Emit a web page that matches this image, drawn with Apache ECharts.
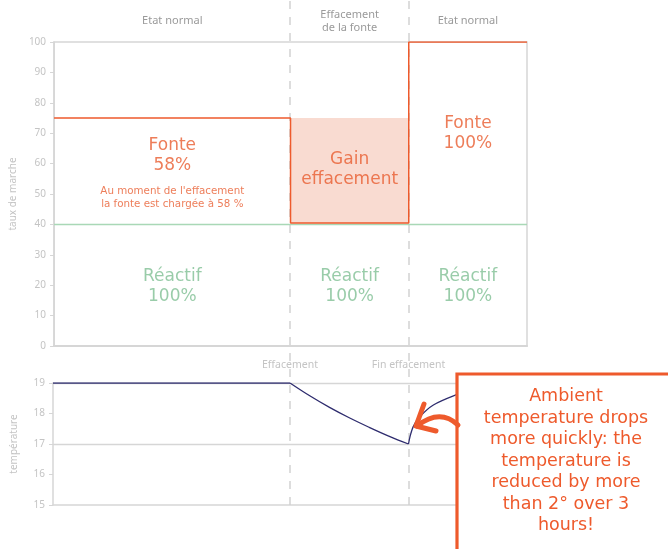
<!DOCTYPE html>
<html><head><meta charset="utf-8">
<script src="https://cdn.jsdelivr.net/npm/echarts@6/dist/echarts.min.js"></script>
<style>html,body{margin:0;padding:0;background:#fff}#c{width:668px;height:549px}</style>
</head><body><div id="c"></div>
<script>
// ---- data ----
const hourMin = 0, hourMax = 12;
const phaseNames = ['Etat normal', 'Effacement\nde la fonte', 'Etat normal'];
const phaseBounds = [0, 6, 9, 12];
const eventNames = ['Effacement', 'Fin effacement'];
const eventHours = [6, 9];

const fonteHours = [0, 6, 6, 9, 9, 12];
const fonteRates = [75, 75, 40.5, 40.5, 100, 100];
const reactifHours = [0, 12];
const reactifRates = [40, 40];
const gainHours = [6, 9];
const gainRates = [40.5, 75];

const rateLabels = ['Fonte\n58%', "Au moment de l'effacement\nla fonte est chargée à 58 %", 'Gain\neffacement', 'Fonte\n100%', 'Réactif\n100%', 'Réactif\n100%', 'Réactif\n100%'];
const rateLabelHours = [3, 3, 7.5, 10.5, 3, 7.5, 10.5];
const rateLabelValues = [62.5, 48.8, 57.9, 70, 19.7, 19.7, 19.7];
const rateLabelKinds = ['red', 'small', 'red', 'red', 'green', 'green', 'green'];

const tempNormalHours = [0, 6];
const tempNormalValues = [19, 19];
const tempDropHours = [6, 6.5, 7, 7.5, 8, 8.5, 9];
const tempDropValues = [19, 18.58, 18.2, 17.86, 17.55, 17.26, 17];
const tempRiseHours = [9, 9.04, 9.12, 9.29, 9.63, 10.18, 10.6, 11.2, 12];
const tempRiseValues = [17, 17.25, 17.57, 17.9, 18.28, 18.6, 18.77, 18.9, 18.97];
const tempRefLines = [19, 17];

const noteText = 'Ambient\ntemperature drops\nmore quickly: the\ntemperature is\nreduced by more\nthan 2° over 3\nhours!';

// ---- style ----
const FONT = 'Noto Sans';
const WIDE = 'DejaVu Sans';
const RED = '#ee5a2c', RED_TXT = '#e95d30', PINK = '#f9dbd1';
const GREEN = '#a9d8b6', GREEN_TXT = '#7fbf93';
const NAVY = '#2e2c6e', AXIS = '#d6d6d6', TICK_TXT = '#c4c4c4';

const zip = (a, b) => a.map((v, i) => [v, b[i]]);

const labelStyles = {
  red: { color: RED_TXT, fontSize: 17, lineHeight: 20 },
  small: { color: RED_TXT, fontSize: 10.3, lineHeight: 13 },
  green: { color: GREEN_TXT, fontSize: 17, lineHeight: 20 }
};

const chart = echarts.init(document.getElementById('c'), null, { renderer: 'canvas' });
chart.setOption({
  animation: false,
  textStyle: { fontFamily: FONT },
  grid: [
    { left: 53, right: 141, top: 42, height: 304, show: true, borderColor: AXIS, borderWidth: 1.5, backgroundColor: 'transparent' },
    { left: 53, right: 141, top: 383, height: 122 },
    { left: 53, right: 141, top: 0, height: 505 }
  ],
  xAxis: [
    { gridIndex: 0, type: 'value', min: hourMin, max: hourMax, axisLine: { show: true, lineStyle: { color: AXIS, width: 2 } }, axisTick: { show: false }, axisLabel: { show: false }, splitLine: { show: false } },
    { gridIndex: 1, type: 'value', min: hourMin, max: hourMax, axisLine: { show: true, lineStyle: { color: AXIS, width: 1.5 } }, axisTick: { show: false }, axisLabel: { show: false }, splitLine: { show: false } },
    { gridIndex: 2, type: 'value', min: hourMin, max: hourMax, show: false }
  ],
  yAxis: [
    { gridIndex: 0, type: 'value', min: 0, max: 100, interval: 10, name: 'taux de marche', nameLocation: 'middle', nameGap: 34,
      nameTextStyle: { color: TICK_TXT, fontSize: 10 },
      axisLine: { show: true, lineStyle: { color: AXIS, width: 1.5 } }, axisTick: { show: true, length: 4, lineStyle: { color: AXIS } },
      axisLabel: { color: TICK_TXT, fontSize: 10, margin: 8 }, splitLine: { show: false } },
    { gridIndex: 1, type: 'value', min: 15, max: 19, interval: 1, name: 'température', nameLocation: 'middle', nameGap: 34,
      nameTextStyle: { color: TICK_TXT, fontSize: 10 },
      axisLine: { show: true, lineStyle: { color: AXIS, width: 1.5 } }, axisTick: { show: true, length: 4, lineStyle: { color: AXIS } },
      axisLabel: { color: TICK_TXT, fontSize: 10, margin: 8 }, splitLine: { show: false } },
    { gridIndex: 2, type: 'value', min: 0, max: 1, show: false }
  ],
  series: [
    { type: 'line', xAxisIndex: 2, yAxisIndex: 2, data: [], silent: true, z: 1,
      markLine: { z: 1, silent: true, symbol: 'none', label: { show: false },
        lineStyle: { color: '#d2d2d2', width: 1.5, type: [8, 8] },
        data: eventHours.map(h => ({ xAxis: h })) } },
    { name: 'Réactif', type: 'line', xAxisIndex: 0, yAxisIndex: 0, data: zip(reactifHours, reactifRates), showSymbol: false,
      lineStyle: { color: GREEN, width: 1.5 }, z: 3,
      markArea: { silent: true,
        data: phaseNames.map((n, i) => [
          { xAxis: phaseBounds[i], yAxis: 0, name: n,
            label: { show: true, position: 'top', distance: n.indexOf('\n') >= 0 ? 8 : 15, color: '#9a9a9a', fontSize: 11, lineHeight: 13, fontFamily: FONT },
            itemStyle: { color: 'rgba(0,0,0,0)' } },
          { xAxis: phaseBounds[i + 1], yAxis: 100 }]) } },
    { name: 'Fonte', type: 'line', xAxisIndex: 0, yAxisIndex: 0, data: zip(fonteHours, fonteRates), showSymbol: false,
      lineStyle: { color: RED, width: 1.5 }, z: 4,
      markArea: { z: 2, silent: true, itemStyle: { color: PINK },
        data: [[{ xAxis: gainHours[0], yAxis: gainRates[0] }, { xAxis: gainHours[1], yAxis: gainRates[1] }]] } },
    { type: 'scatter', xAxisIndex: 0, yAxisIndex: 0, symbolSize: 1, itemStyle: { color: 'rgba(0,0,0,0)' }, silent: true, z: 5,
      data: rateLabels.map((t, i) => ({ value: [rateLabelHours[i], rateLabelValues[i]], name: t,
        label: Object.assign({ show: true, position: 'inside', formatter: '{b}', fontFamily: WIDE, align: 'center' }, labelStyles[rateLabelKinds[i]]) })) },
    { name: 'temp', type: 'line', xAxisIndex: 1, yAxisIndex: 1, data: zip(tempNormalHours, tempNormalValues), showSymbol: false,
      lineStyle: { color: NAVY, width: 1.3 }, z: 4,
      markLine: { z: 2, silent: true, symbol: 'none', lineStyle: { color: AXIS, width: 1.3, type: 'solid' }, label: { show: false },
        data: tempRefLines.map(v => ({ yAxis: v })) } },
    { name: 'temp2', type: 'line', xAxisIndex: 1, yAxisIndex: 1, data: zip(tempDropHours, tempDropValues), showSymbol: false, smooth: 0.4,
      lineStyle: { color: NAVY, width: 1.3 }, z: 4,
      markLine: { silent: true, symbol: 'none', lineStyle: { color: 'rgba(255,255,255,0)', width: 0.1, type: 'solid' },
        label: { show: true, position: 'end', distance: 12, color: TICK_TXT, fontSize: 10.5, fontFamily: FONT, formatter: '{b}' },
        data: eventHours.map((h, i) => ({ xAxis: h, name: eventNames[i] })) } },
    { name: 'temp3', type: 'line', xAxisIndex: 1, yAxisIndex: 1, data: zip(tempRiseHours, tempRiseValues), showSymbol: false, smooth: 0.3,
      lineStyle: { color: NAVY, width: 1.3 }, z: 4 }
  ],
  graphic: [
    { type: 'rect', z: 100, shape: { x: 457, y: 374, width: 300, height: 300 }, style: { fill: '#fff', stroke: RED, lineWidth: 3.2 } },
    { type: 'text', z: 101, x: 566, y: 386, style: { text: noteText, fill: RED, fontSize: 17.5, fontFamily: WIDE, align: 'center', verticalAlign: 'top', lineHeight: 21.5 } },
    { type: 'bezierCurve', z: 101, shape: { x1: 458, y1: 425, cpx1: 440, cpy1: 408, x2: 417, y2: 426 }, style: { stroke: RED, lineWidth: 5, fill: null, lineCap: 'round' } },
    { type: 'polyline', z: 101, shape: { points: [[424, 404], [416, 426], [436, 431]] }, style: { stroke: RED, lineWidth: 5, fill: null, lineCap: 'round', lineJoin: 'round' } }
  ]
});
</script></body></html>
